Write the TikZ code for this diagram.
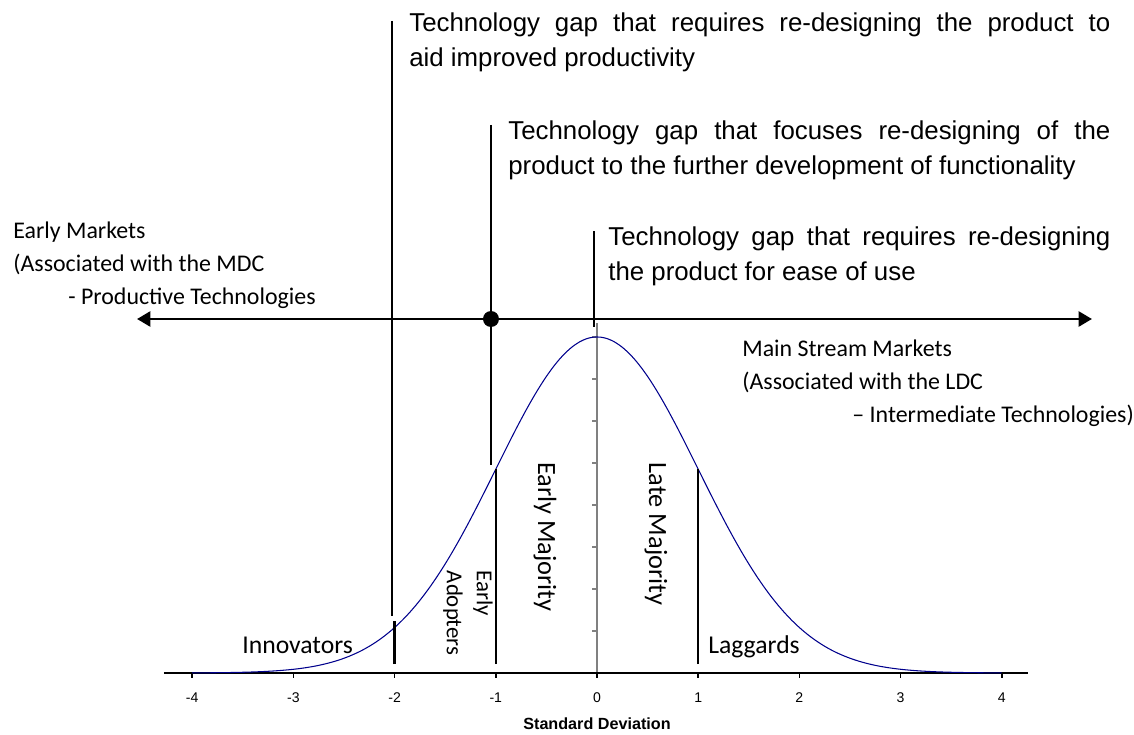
\documentclass[tikz,border=0pt]{standalone}
\usepackage{fontspec}
\setmainfont{Liberation Sans}
\newfontfamily\calfont{Carlito}
\usetikzlibrary{arrows.meta}
\tolerance=2000

\begin{document}
\begin{tikzpicture}[x=1cm, y=1cm,
  gaptext/.style = {anchor=north west, inner sep=0pt, align=justify,
    font=\fontsize{14.7}{19.8}\selectfont},
  gapline/.style = {line width=0.85pt},
  markettext/.style = {anchor=north west, inner sep=0pt, align=left,
    font=\calfont\fontsize{13.6}{18.7}\selectfont},
  grouplabel/.style = {inner sep=0pt, font=\calfont\fontsize{14.6}{17}\selectfont},
  divider/.style = {line width=1.4pt},
  ticklabel/.style = {font=\fontsize{8}{9}\selectfont}]
  \useasboundingbox (-11.94,-1.22) rectangle (10.74,13.46);

  % the three technology gaps
  \node[gaptext, text width=14.02cm] (gapA) at (-3.76,13.33)
    {\strut Technology gap that requires re-designing the product to\linebreak aid improved productivity};
  \node[gaptext, text width=12.04cm] (gapB) at (-1.78,11.17)
    {\strut Technology gap that focuses re-designing of the\linebreak product to the further development of functionality};
  \node[gaptext, text width=10.04cm] (gapC) at (0.22,9.05)
    {\strut Technology gap that requires re-designing\linebreak the product for ease of use};
  \draw[gapline] (-4.1,13.04) -- (-4.1,1.14);
  \draw[gapline] (-2.12,10.96) -- (-2.12,4.16);
  \draw[gapline] (-0.06,8.84) -- (-0.06,6.92);

  % markets
  \node[markettext] (earlymkt) at (-11.68,9.02)
    {Early Markets\\(Associated with the MDC\\\hspace*{1.1cm}- Productive Technologies};
  \node[markettext] (mainmkt) at (2.9,6.66)
    {Main Stream Markets\\(Associated with the LDC\\\hspace*{2.2cm}– Intermediate Technologies)};
  \coordinate (early) at (-9.2,7.08);
  \coordinate (main) at (9.9,7.08);
  \draw[line width=1.7pt, {Triangle[length=0.27cm, width=0.3cm]}-{Triangle[length=0.27cm, width=0.3cm]}]
    (early) -- (main);
  \fill (-2.12,7.08) circle (0.16cm);

  % axes
  \draw[gray, line width=0.8pt] (0,0) -- (0,7.0);
  \foreach \j in {1,...,8}
    \draw[gray, line width=0.8pt] (0,0.84*\j) -- (-0.1,0.84*\j);
  \draw[line width=0.8pt] (-8.66,0) -- (8.62,0);
  \foreach \k in {-4,...,4} {
    \draw[line width=0.8pt] ({2.024*\k},0) -- ({2.024*\k},-0.1);
    \node[ticklabel] at ({2.024*\k},-0.5) {\k};
  }
  \node[font=\bfseries\fontsize{9.2}{11}\selectfont] (sdev) at (0,-1.02) {Standard Deviation};

  % bell curve
  \draw[color={rgb,255:red,0;green,0;blue,140}, line width=0.6pt]
    plot[domain=-4:4, samples=120, smooth] ({2.024*\x},{6.72*exp(-0.5*(\x)^2)});

  % adopter groups
  \draw[divider] (-4.048,0.18) -- (-4.048,1.04);
  \draw[divider] (-2.024,0.18) -- (-2.024,4.08);
  \draw[divider] (2.024,0.18) -- (2.024,4.08);
  \node[grouplabel, anchor=base west] (innov) at (-7.1,0.4) {Innovators};
  \node[grouplabel, anchor=base west] (lagg) at (2.22,0.4) {Laggards};
  \node[grouplabel, rotate=-90, font=\calfont\fontsize{15}{17}\selectfont] (earlymaj) at (-1.04,2.72) {Early Majority};
  \node[grouplabel, rotate=-90, font=\calfont\fontsize{15}{17}\selectfont] (latemaj) at (1.18,2.78) {Late Majority};
  \node[grouplabel, rotate=-90, align=left, font=\calfont\fontsize{13}{17}\selectfont]
    (adopt) at (-2.58,1.2) {Early\\Adopters};
\end{tikzpicture}
\end{document}
